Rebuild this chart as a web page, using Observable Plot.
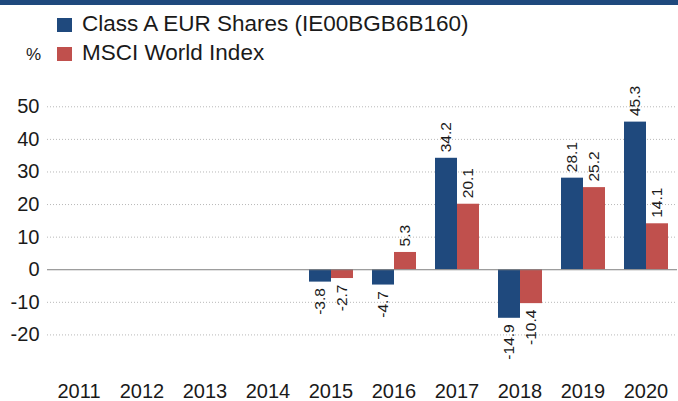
<!DOCTYPE html>
<html><head><meta charset="utf-8">
<script src="https://cdn.jsdelivr.net/npm/d3@7"></script>
<script src="https://cdn.jsdelivr.net/npm/@observablehq/plot@0.6"></script>
<style>
body{margin:0;font-family:"Liberation Sans",Arial,sans-serif;background:#fff}
#wrap{position:relative;width:678px;height:401px;overflow:hidden;background:#fff}
#wrap svg{position:absolute;left:0;top:0}
#topbar{position:absolute;left:0;top:0;width:678px;height:5px;background:#1f497d;z-index:2}
.sw{position:absolute;width:15px;height:14px;z-index:2}
.lt{position:absolute;font-size:22.5px;line-height:22.5px;color:#1a1a1a;white-space:nowrap;z-index:2}
.pct{position:absolute;font-size:17px;line-height:17px;color:#1a1a1a;z-index:2}
</style></head><body><div id="wrap"></div>
<script>
const years = ["2011","2012","2013","2014","2015","2016","2017","2018","2019","2020"];
const seriesNames = ["Class A EUR Shares (IE00BGB6B160)", "MSCI World Index"];
const classA = [null, null, null, null, -3.8, -4.7, 34.2, -14.9, 28.1, 45.3];
const msci = [null, null, null, null, -2.7, 5.3, 20.1, -10.4, 25.2, 14.1];
const colors = ["#1f497d", "#c0504d"];
const yTicks = [-20, -10, 0, 10, 20, 30, 40, 50];

const rows = [];
years.forEach((y, i) => {
  if (classA[i] != null) rows.push({year: y, series: seriesNames[0], value: classA[i]});
  if (msci[i] != null) rows.push({year: y, series: seriesNames[1], value: msci[i]});
});
// gridline rows per year facet so every facet is drawn
const gridRows = [];
const zeroRows = [];
years.forEach(y => {
  yTicks.forEach(t => { if (t !== 0) gridRows.push({year: y, tick: t}); });
  zeroRows.push({year: y, tick: 0});
});

const chart = Plot.plot({
  width: 678, height: 401,
  marginTop: 90, marginBottom: 34, marginLeft: 46, marginRight: 0,
  style: {fontFamily: '"Liberation Sans", Arial, sans-serif', fontSize: "20px", color: "#1a1a1a", background: "transparent"},
  fx: {domain: years, padding: 0, axis: "bottom", tickSize: 0, tickPadding: 16, label: null, tickFormat: d => d},
  x: {domain: seriesNames, axis: null, paddingInner: 0, paddingOuter: 0.374},
  y: {domain: [-30, 55], ticks: yTicks, tickFormat: d => String(d), tickSize: 0, tickPadding: 8, label: null},
  color: {domain: seriesNames, range: colors},
  marks: [
    Plot.ruleY(gridRows, {fx: "year", y: "tick", stroke: "#b8b8b8", strokeDasharray: "1,2"}),
    Plot.barY(rows, {fx: "year", x: "series", y: "value", fill: "series"}),
    Plot.ruleY(zeroRows, {fx: "year", y: "tick", stroke: "#7f7f7f", strokeWidth: 1}),
    Plot.text(rows.filter(d => d.value >= 0), {fx: "year", x: "series", y: "value", text: d => d.value.toFixed(1), rotate: -90, textAnchor: "start", dy: -6, fontSize: 15.5, fill: "#1a1a1a"}),
    Plot.text(rows.filter(d => d.value < 0), {fx: "year", x: "series", y: "value", text: d => d.value.toFixed(1), rotate: -90, textAnchor: "end", dy: 6, fontSize: 15.5, fill: "#1a1a1a"})
  ]
});

const wrap = document.getElementById("wrap");
wrap.appendChild(chart);
const bar = document.createElement("div"); bar.id = "topbar"; wrap.appendChild(bar);
seriesNames.forEach((name, i) => {
  const sw = document.createElement("div");
  sw.className = "sw";
  sw.style.left = "57px"; sw.style.top = (18 + i * 29) + "px"; sw.style.background = colors[i];
  wrap.appendChild(sw);
  const t = document.createElement("div");
  t.className = "lt";
  t.style.left = "82px"; t.style.top = (13 + i * 29) + "px";
  t.textContent = name;
  wrap.appendChild(t);
});
const pct = document.createElement("div");
pct.className = "pct"; pct.style.left = "26px"; pct.style.top = "46px"; pct.textContent = "%";
wrap.appendChild(pct);
</script></body></html>
